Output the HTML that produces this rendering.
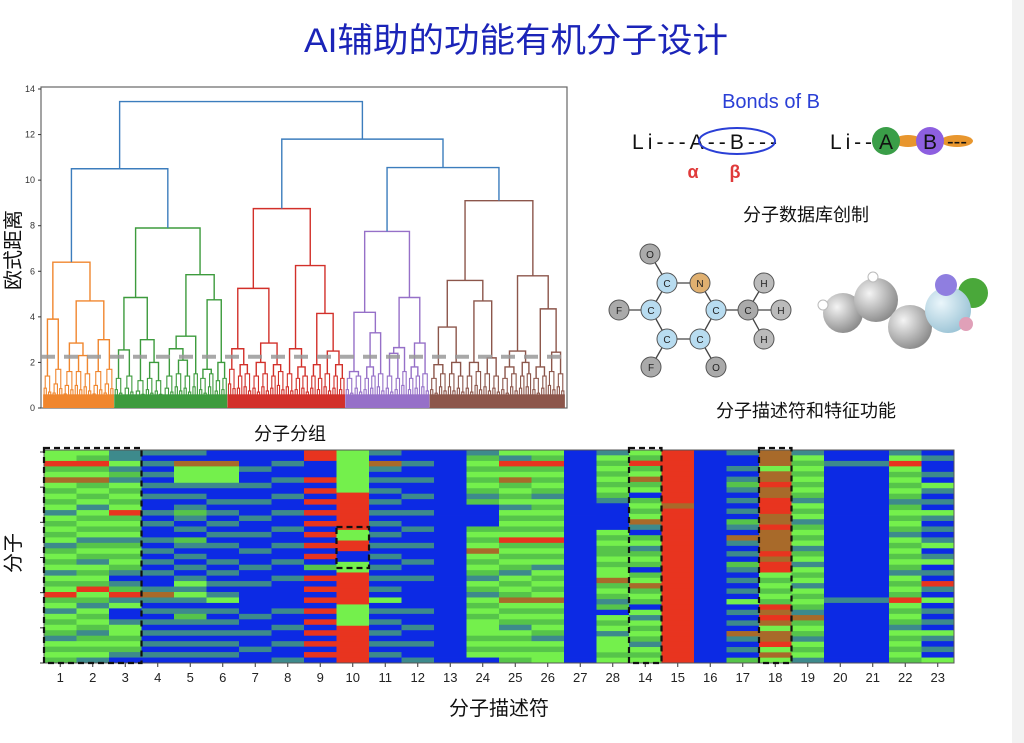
<!DOCTYPE html>
<html><head><meta charset="utf-8">
<style>
html,body{margin:0;padding:0;background:#fff;}
body{width:1024px;height:743px;overflow:hidden;position:relative;font-family:"Liberation Sans","Noto Sans CJK SC",sans-serif;}
svg{position:absolute;left:0;top:0;}
</style></head>
<body>
<svg id="s" width="1024" height="743" viewBox="0 0 1024 743">
<rect x="1012" y="0" width="12" height="743" fill="#f2f2f2"/>
<text x="516" y="52" text-anchor="middle" font-size="34" fill="#1b24b8" textLength="424" lengthAdjust="spacingAndGlyphs" font-family="Liberation Sans, Noto Sans CJK SC, sans-serif">AI辅助的功能有机分子设计</text>

<g id="dendro"></g>
<g id="heat"></g>

<!-- right panel -->
<g font-family="Liberation Sans, sans-serif">
<text x="771" y="108" text-anchor="middle" font-size="20" fill="#2a3fd6">Bonds of B</text>
<text x="632" y="149" font-size="21" fill="#111" textLength="145" lengthAdjust="spacing">Li---A--B---</text>
<ellipse cx="737" cy="141" rx="38" ry="13" fill="none" stroke="#2a3fd6" stroke-width="2"/>
<text x="693" y="178" text-anchor="middle" font-size="18" font-weight="bold" fill="#e03a3a">α</text>
<text x="735" y="178" text-anchor="middle" font-size="18" font-weight="bold" fill="#e03a3a">β</text>
<text x="830" y="149" font-size="21" fill="#111" textLength="42" lengthAdjust="spacing">Li--</text>
<ellipse cx="908" cy="141" rx="14" ry="6" fill="#e8962e"/>
<ellipse cx="957" cy="141" rx="16" ry="6" fill="#e8962e"/>
<circle cx="886" cy="141" r="14" fill="#3a9e48"/>
<circle cx="930" cy="141" r="14" fill="#8d5fe0"/>
<text x="886" y="149" text-anchor="middle" font-size="21" fill="#111">A</text>
<text x="930" y="149" text-anchor="middle" font-size="21" fill="#111">B</text>
<text x="957" y="148" text-anchor="middle" font-size="20" fill="#111">---</text>
</g>
<text x="806" y="221" text-anchor="middle" font-size="18" fill="#111">分子数据库创制</text>
<g id="mol"></g>
<g>
<defs>
<radialGradient id="gg" cx="0.35" cy="0.35" r="0.7"><stop offset="0" stop-color="#f4f4f4"/><stop offset="1" stop-color="#8a8a8a"/></radialGradient>
<radialGradient id="gb" cx="0.35" cy="0.35" r="0.7"><stop offset="0" stop-color="#eaf6fb"/><stop offset="1" stop-color="#9cc4d6"/></radialGradient>
</defs>
<circle cx="843" cy="313" r="20" fill="url(#gg)"/>
<circle cx="876" cy="300" r="22" fill="url(#gg)"/>
<circle cx="910" cy="327" r="22" fill="url(#gg)"/>
<circle cx="973" cy="293" r="15" fill="#4aa83a"/>
<circle cx="948" cy="310" r="23" fill="url(#gb)"/>
<circle cx="946" cy="285" r="11" fill="#8f7ee0"/>
<circle cx="966" cy="324" r="7" fill="#e0a0b8"/>
<circle cx="823" cy="305" r="5" fill="#fff" stroke="#bbb"/>
<circle cx="873" cy="277" r="5" fill="#fff" stroke="#bbb"/>
</g>
<text x="806" y="417" text-anchor="middle" font-size="18" fill="#111">分子描述符和特征功能</text>

<text x="290" y="440" text-anchor="middle" font-size="18" fill="#111">分子分组</text>
<text transform="translate(20,250) rotate(-90)" text-anchor="middle" font-size="20" fill="#111">欧式距离</text>
<text transform="translate(20,553) rotate(-90)" text-anchor="middle" font-size="20" fill="#111">分子</text>
<text x="499" y="715" text-anchor="middle" font-size="20" fill="#111">分子描述符</text>
</svg>
<script>
const NS='http://www.w3.org/2000/svg';
function mk(tag,attrs,parent){const e=document.createElementNS(NS,tag);for(const k in attrs)e.setAttribute(k,attrs[k]);parent.appendChild(e);return e;}

/* ---------- Dendrogram data ---------- */
const yTicks=[0,2,4,6,8,10,12,14];
const cutHeight=2.25;
const clusterColors=['#f0862e','#3d9b3d','#d2302a','#9670c8','#8c564b'];
const orangeTree=[6.4,[3.9,[1.4,4],[1.7,5]],[4.7,[2.85,[1.6,5],[2.3,[1.6,4],[1.5,4]]],[3.0,[1.6,5],[1.7,5]]]];
const greenTree=[7.9,[4.85,[2.55,[1.3,4],[1.4,5]],[3.0,[1.2,5],[2.0,[1.3,4],[1.2,4]]]],[5.85,[3.15,[2.6,[1.4,5],[2.1,[1.5,4],[1.4,4]]],[1.5,3]],[4.75,[1.7,[1.3,4],[1.5,3]],[2.0,[1.2,3],[1.3,3]]]]];
const redTree=[8.75,[5.25,[2.6,[1.7,4],[1.9,[1.4,3],[1.5,4]]],[2.85,[2.0,[1.4,4],[1.5,4]],[1.9,[1.4,3],[1.6,4]]]],[6.25,[2.6,[1.5,4],[1.8,[1.3,3],[1.4,4]]],[4.15,[1.9,[1.4,3],[1.3,3]],[2.5,[1.5,4],[1.9,[1.4,3],[1.3,3]]]]]];
const purpleTree=[7.75,[4.2,[1.6,[1.3,4],[1.4,4]],[3.3,[1.8,[1.3,3],[1.4,3]],[1.5,4]]],[4.85,[2.65,[2.4,[1.4,4],[1.3,3]],[1.6,3]],[2.85,[1.8,[1.3,3],[1.4,3]],[1.5,4]]]];
const brownTree=[9.1,[5.6,[3.55,[1.9,[1.3,4],[1.5,4]],[2.0,[1.5,4],[1.4,4]]],[4.7,[2.0,[1.4,4],[1.6,4]],[2.2,[1.5,4],[1.4,4]]]],[5.8,[2.5,[1.8,[1.3,4],[1.5,4]],[2.0,[1.4,3],[1.5,3]]],[4.35,[1.8,[1.3,4],[1.4,3]],[2.45,[1.6,4],[1.5,4]]]]];
const topHeights=[13.45,10.5,11.8,10.55];

(function(){
const g=document.getElementById('dendro');
const X0=41,X1=567,Y0=408,Y1=87;
const y=h=>Y0-h*(Y0-89)/14;
const clusters=[orangeTree,greenTree,redTree,purpleTree,brownTree];
function count(n){return n.length===2?n[1]:count(n[1])+count(n[2]);}
const N=clusters.reduce((a,c)=>a+count(c),0);
const x=i=>X0+2+(i+0.5)*(X1-X0-4)/N;
let idx=0;
function U(xl,hl,xr,hr,h,col,w){
  const p=mk('path',{d:`M${xl},${y(hl)}V${y(h)}H${xr}V${y(hr)}`,fill:'none',stroke:col,'stroke-width':w||1.4},g);
  
  
}
function bush(n,h,col){
  if(n===1){const r={x:x(idx),h:0};idx++;return r;}
  const a=Math.ceil(n/2);
  const L=bush(a,h*0.62,col),R=bush(n-a,h*0.5,col);
  U(L.x,L.h,R.x,R.h,h,col,1.1);
  return {x:(L.x+R.x)/2,h:h};
}
function draw(n,col){
  if(n.length===2)return bush(n[1],n[0],col);
  const L=draw(n[1],col),R=draw(n[2],col);
  U(L.x,L.h,R.x,R.h,n[0],col);
  return {x:(L.x+R.x)/2,h:n[0]};
}
const fr=mk('rect',{x:X0,y:Y1,width:X1-X0,height:Y0-Y1,fill:'none',stroke:'#666','stroke-width':1.2},g);


const res=[];
clusters.forEach((c,i)=>{
  const s=idx;
  res.push(draw(c,clusterColors[i]));
  const band=mk('rect',{x:x(s)-1,y:y(0.6),width:x(idx-1)-x(s)+2,height:y(0)-y(0.6),fill:clusterColors[i]},g);
  
  
});
const blue='#3c7dbd';
U(res[0].x,res[0].h,res[1].x,res[1].h,topHeights[1],blue);
const lx=(res[0].x+res[1].x)/2;
U(res[3].x,res[3].h,res[4].x,res[4].h,topHeights[3],blue);
const pbx=(res[3].x+res[4].x)/2;
U(res[2].x,res[2].h,pbx,topHeights[3],topHeights[2],blue);
const rx=(res[2].x+pbx)/2;
U(lx,topHeights[1],rx,topHeights[2],topHeights[0],blue);
const cut=mk('line',{x1:X0,x2:X1,y1:y(cutHeight),y2:y(cutHeight),stroke:'#999','stroke-width':4,'stroke-dasharray':'14 9',opacity:0.85},g);


yTicks.forEach(t=>{
  mk('line',{x1:X0-3,x2:X0,y1:y(t),y2:y(t),stroke:'#333'},g);
  const tx=mk('text',{x:X0-6,y:y(t)+3,'text-anchor':'end','font-size':9,fill:'#333'},g);
  tx.textContent=t;
  
  
});
})();

/* ---------- Heatmap data ---------- */
const colLabels=[1,2,3,4,5,6,7,8,9,10,11,12,13,24,25,26,27,28,14,15,16,17,18,19,20,21,22,23];
const colRows=[
"ggrmgogmgmgtgmgmgtmgmgtgmgrmgtgmgmtgmgm",
"gmrmgomgmgtgmgmgtmgmtgmgmrgmtgmgmtmgmgt",
"ttgtmtgmgmgrmgmgtmgmgmtbtmrtgbbtggmgmtb",
"tbtbtbtbtbbtbtbbtbtbtbtbbtotbtbtbtbtbtb",
"tbogggtbtbtmtbtbmtbtbtbtgtgtbtmtbtbtbtb",
"bbogggtbbtbtbtbtbtbbtbtbtbtgbtbtbtbtbtb",
"bbbtbbtbbtbbtbbtbbtbbtbbtbbbbbtbbtbbtbb",
"bbtbbtbbtbbtbbtbbtbbtbbtbbbbbtbbtbbtbbt",
"rrbbbrbrbrbrbrbrbrbrbmbrbrbrbrbrbrbrbrb",
"ggggggggrrrrrrrggrrbbggrrrrrrggggrrrrrrr",
"tbotbtbtbtbtbtbtbtbtbtbtbtbgbtbtbtbtbtb",
"bbtbbtbbtbbtbbtbbtbbtbbtbbbbbtbbtbbtbbt",
"bbbbbbbbbbbbbbbbbbbbbbbbbbbbbbbbbbbbbbb",
"tmgmgmgmtmbbbbmgmgogmgmtgmtgmgmgggmgmgb",
"gtrmgomgmgtgmgmgrmgmgmtgmgmogmgmtgmgmgm",
"gmrmgmgmtgmgmgmgrmgmgtgmgmgogmgmgmtgmgg",
"bbbbbbbbbbbbbbbbbbbbbbbbbbbbbbbbbbbbbbb",
"tgmgmgmgmtbbbbbgmgmmgmggomgmtmbgmgtgggmg",
"gmrmgomgbmgmgotbmgtmgmbmgomgmbgtgmgmtgmg",
"rrrrrrrrrrorrrrrrrrrrrrrrrrrrrrrrrrrrrrr",
"bbbbbbbbbbbbbbbbbbbbbbbbbbbbbbbbbbbbbbbb",
"tbbtbtmtbtbtbmtbotbtbmtbtbtbgbtbtbotbtbm",
"ooogooroorrrooroooororrgmgmgmrorogoorgog",
"tgmgmgmgmtgmgtmgmgtmgtgmgtgmgmtomgmtgmgt",
"bbtbbbbbbbbbbbbbbbbbbbbbbbbtbbbbbbbbbbb",
"bbtbbbbbbbbbbbbbbbbbbbbbbbbtbbbbbbbbbbb",
"tgrgmgmgmtmgmgmtgmgmgmtgmgmrgmgmtgmgmgm",
"btbbtbgtbtbgtbtbtgbtgbtbrtbgbtbtbgtbtbg"];
const cellColors={g:'#74f04c',m:'#56c44a',t:'#3d8a8c',b:'#0c2ae4',r:'#e8341f',o:'#a86a2a'};
const boxedCols=[[1,3],[14,14],[18,18]];

(function(){
const g=document.getElementById('heat');
const X0=44,X1=954,Y0=450,Y1=663;
const cw=(X1-X0)/colLabels.length;
const cx=i=>X0+i*cw;
colRows.forEach((s,ci)=>{
  const rh=(Y1-Y0)/s.length;
  for(let r=0;r<s.length;r++){
    const c=mk('rect',{x:cx(ci),y:Y0+r*rh,width:cw+0.4,height:rh+0.4,fill:cellColors[s[r]]},g);
    
    
  }
  const t=mk('text',{x:cx(ci)+cw/2,y:682,'text-anchor':'middle','font-size':13,fill:'#222'},g);
  t.textContent=colLabels[ci];
  
  
  mk('line',{x1:cx(ci)+cw/2,x2:cx(ci)+cw/2,y1:Y1,y2:Y1+4,stroke:'#333'},g);
});
const fr=mk('rect',{x:X0,y:Y0,width:X1-X0,height:Y1-Y0,fill:'none',stroke:'#555','stroke-width':1},g);


for(let k=0;k<7;k++){const yy=Y0+2+k*(Y1-Y0-2)/6;mk('line',{x1:X0-4,x2:X0,y1:yy,y2:yy,stroke:'#333'},g);}
boxedCols.forEach(([a,b])=>{
  const i0=colLabels.indexOf(a),i1=colLabels.indexOf(b);
  const bx=mk('rect',{x:cx(i0),y:Y0-2,width:cx(i1+1)-cx(i0),height:Y1-Y0+2,fill:'none',stroke:'#111','stroke-width':2.2,'stroke-dasharray':'6 4'},g);
  
  
});
const i10=colLabels.indexOf(10);
const sb=mk('rect',{x:cx(i10),y:527,width:cw,height:41,fill:'none',stroke:'#111','stroke-width':2.2,'stroke-dasharray':'6 4'},g);


})();

/* ---------- 2D molecule ---------- */
(function(){
const g=document.getElementById('mol');
const atoms=[['O',650,254,'#aaa'],['C',667,283,'#b8dcf0'],['N',700,283,'#e0b070'],['F',619,310,'#aaa'],['C',651,310,'#b8dcf0'],['C',716,310,'#b8dcf0'],['C',748,310,'#aaa'],['H',764,283,'#bbb'],['H',781,310,'#bbb'],['H',764,339,'#bbb'],['C',667,339,'#b8dcf0'],['C',700,339,'#b8dcf0'],['F',651,367,'#aaa'],['O',716,367,'#aaa']];
const bonds=[[0,1],[1,2],[2,5],[1,4],[3,4],[4,10],[10,11],[11,5],[5,6],[6,7],[6,8],[6,9],[10,12],[11,13]];
bonds.forEach(([a,b])=>mk('line',{x1:atoms[a][1],y1:atoms[a][2],x2:atoms[b][1],y2:atoms[b][2],stroke:'#444','stroke-width':1.3},g));
atoms.forEach(a=>{
  const c=mk('circle',{cx:a[1],cy:a[2],r:10,fill:a[3],stroke:'#555','stroke-width':1},g);
  
  
  const t=mk('text',{x:a[1],y:a[2]+4,'text-anchor':'middle','font-size':10,fill:'#222'},g);
  t.textContent=a[0];
});
})();
</script>
</body></html>
